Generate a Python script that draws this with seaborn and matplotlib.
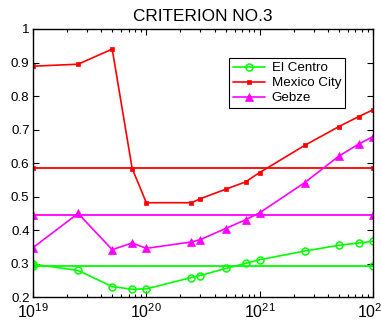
import matplotlib
matplotlib.use("Agg")
import matplotlib.pyplot as plt
from matplotlib.ticker import FixedLocator, FuncFormatter, LogLocator
import numpy as np
import pandas as pd
import seaborn as sns

# Sample positions (log axis) shared by all three records
x_vals = [1e19, 2.5e19, 5e19, 7.5e19, 1e20, 2.5e20, 3e20, 5e20, 7.5e20,
          1e21, 2.5e21, 5e21, 7.5e21, 1e22]

el_centro = [0.299, 0.280, 0.232, 0.224, 0.225, 0.259, 0.265, 0.286, 0.301,
             0.312, 0.338, 0.355, 0.362, 0.367]
mexico_city = [0.889, 0.895, 0.940, 0.584, 0.482, 0.482, 0.494, 0.522, 0.544,
               0.572, 0.653, 0.709, 0.739, 0.759]
gebze = [0.348, 0.450, 0.342, 0.362, 0.346, 0.365, 0.372, 0.405, 0.431,
         0.452, 0.542, 0.621, 0.657, 0.679]

# Reference levels drawn across the full range
level_x = [1e19, 1e22]
el_centro_level = 0.293
mexico_city_level = 0.586
gebze_level = 0.445

y_ticks = [0.2, 0.3, 0.4, 0.5, 0.6, 0.7, 0.8, 0.9, 1.0]

sns.set_style("ticks")
plt.rcParams["font.family"] = ["Liberation Sans", "DejaVu Sans"]
plt.rcParams["mathtext.fontset"] = "custom"
plt.rcParams["mathtext.rm"] = "Liberation Sans"
plt.rcParams["text.color"] = "black"

fig = plt.figure(figsize=(3.81, 3.22), dpi=100)
ax = fig.add_axes([0.0866, 0.0767, 0.8924, 0.8333])

series = [
    ("El Centro", el_centro, el_centro_level, "#00ff00",
     dict(marker="o", markersize=5, markerfacecolor="none",
          markeredgewidth=1.1)),
    ("Mexico City", mexico_city, mexico_city_level, "#ff0000",
     dict(marker="s", markersize=3, markeredgewidth=0.5)),
    ("Gebze", gebze, gebze_level, "#ff00ff",
     dict(marker="^", markersize=5.5, markeredgewidth=0.5)),
]

for name, vals, level, color, mk in series:
    df = pd.DataFrame({"x": x_vals, "y": vals})
    sns.lineplot(data=df, x="x", y="y", ax=ax, color=color, linewidth=1.2,
                 label=name, markeredgecolor=color, **mk)
    lv = pd.DataFrame({"x": level_x, "y": [level, level]})
    sns.lineplot(data=lv, x="x", y="y", ax=ax, color=color, linewidth=1.3,
                 legend=False, markeredgecolor=color, **mk)

ax.set_xscale("log")
ax.set_xlim(1e19, 1e22)
ax.set_ylim(0.2, 1.0)
ax.yaxis.set_major_locator(FixedLocator(y_ticks))
ax.yaxis.set_major_formatter(FuncFormatter(lambda v, p: f"{v:g}"))
ax.xaxis.set_major_locator(LogLocator(base=10, numticks=10))
ax.xaxis.set_minor_locator(LogLocator(base=10, subs=np.arange(2, 10), numticks=20))

ax.set_xlabel("")
ax.set_ylabel("")
ax.set_title("CRITERION NO.3", fontsize=12.4, pad=6, color="black")

ax.tick_params(axis="both", which="both", direction="in", top=True,
               right=True, colors="black", width=0.8)
ax.tick_params(axis="both", which="major", length=4)
ax.tick_params(axis="both", which="minor", length=2)
ax.tick_params(axis="y", which="major", labelsize=9.6, pad=2.5)
ax.tick_params(axis="x", which="major", labelsize=11.5, pad=3.5)
for sp in ax.spines.values():
    sp.set_color("black")
    sp.set_linewidth(1.0)

leg = ax.legend(loc="upper right", bbox_to_anchor=(0.918, 0.892),
                fontsize=9.6, frameon=True, fancybox=False, framealpha=1,
                edgecolor="black", handlelength=2.4, handletextpad=0.5,
                borderpad=0.3, labelspacing=0.2, borderaxespad=0)
leg.get_frame().set_linewidth(0.8)
for t in leg.get_texts():
    t.set_color("black")

fig.savefig("out.png", dpi=100, facecolor="white")
